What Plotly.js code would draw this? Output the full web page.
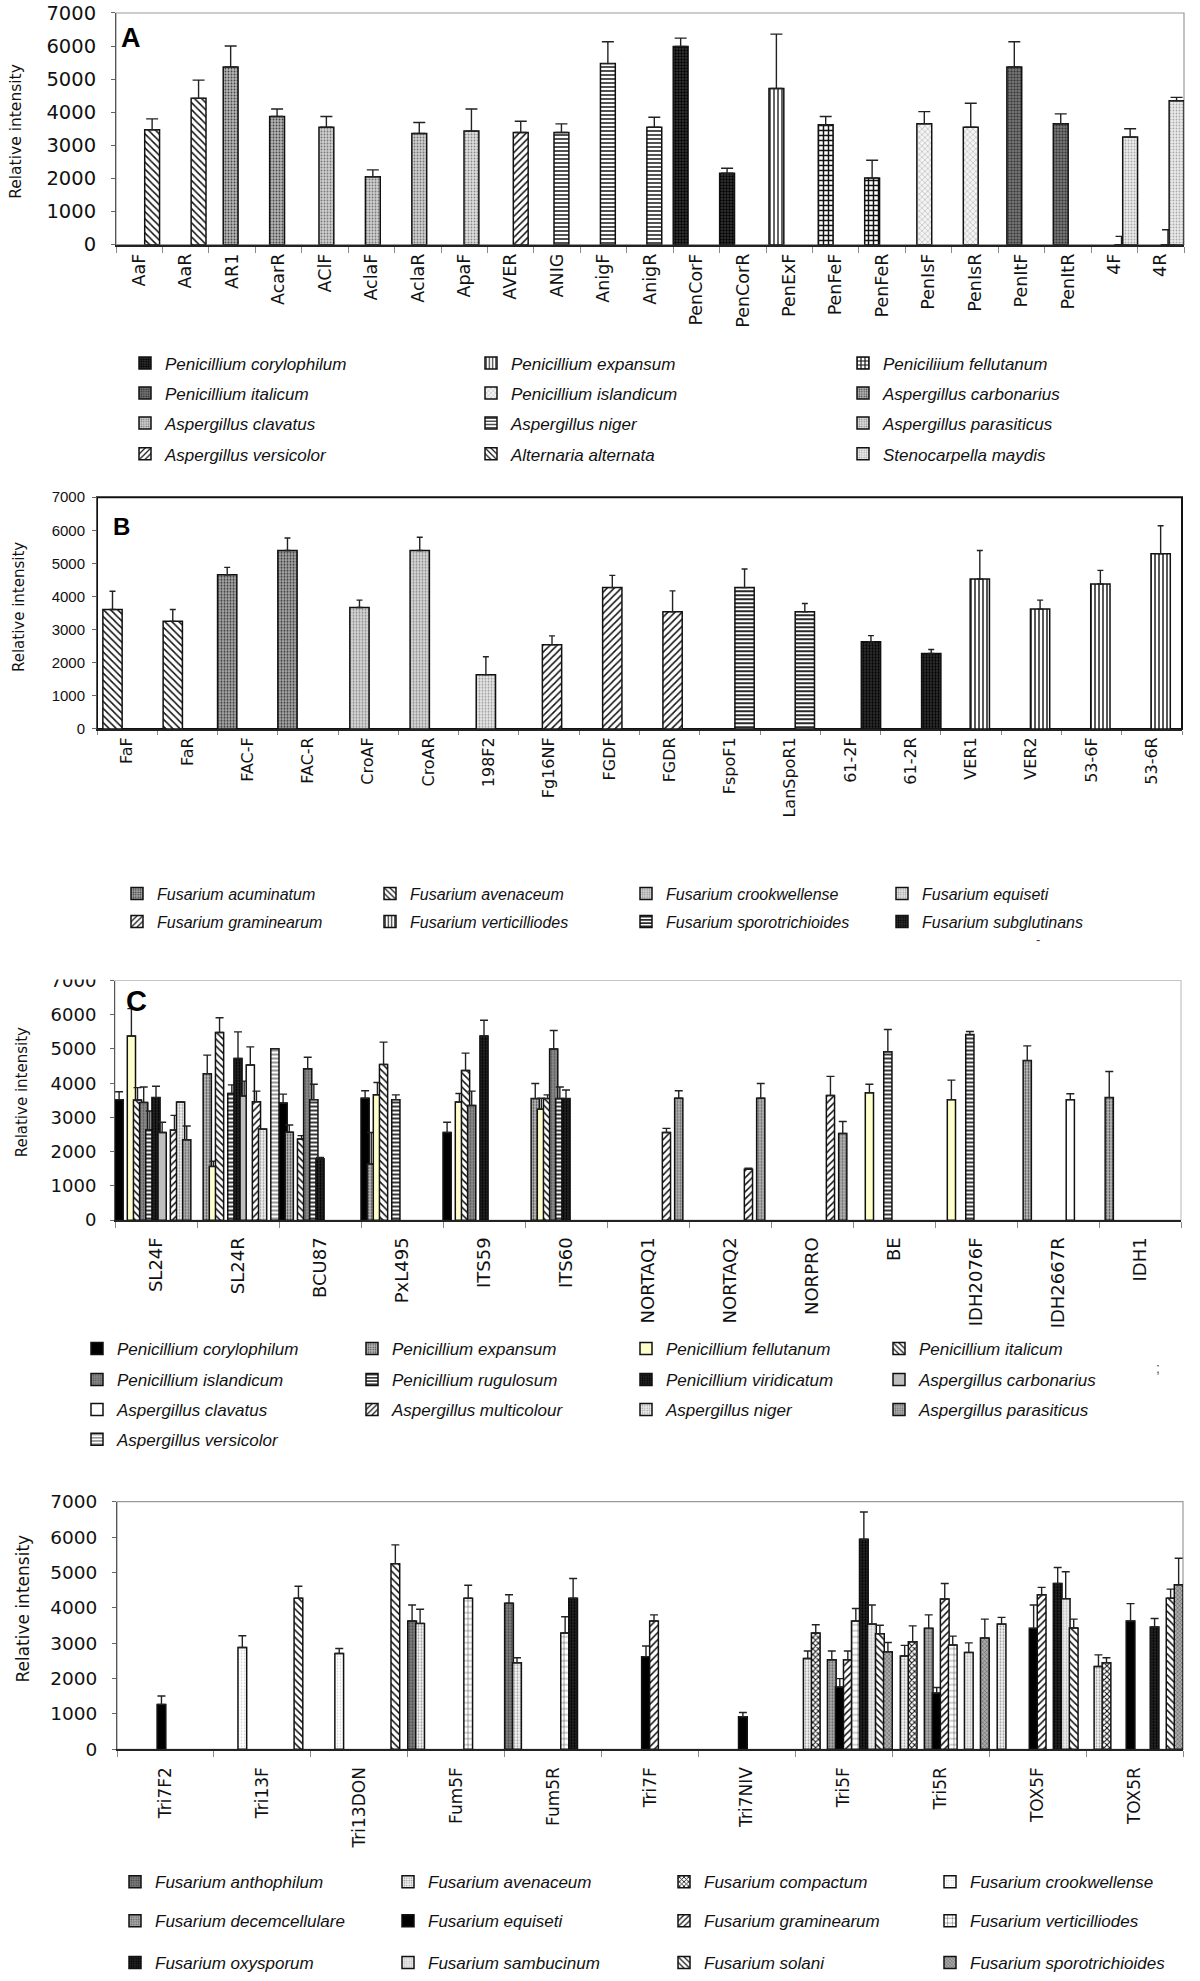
<!DOCTYPE html>
<html><head><meta charset="utf-8">
<script src="https://cdn.plot.ly/plotly-3.0.1.min.js"></script>
<style>html,body{margin:0;padding:0;background:#fff}#chart{width:1200px;height:1981px}</style>
</head><body><div id="chart"></div>
<script>
// ---------------- DATA ----------------
const yTitle = 'Relative intensity';

const catsA = ['AaF','AaR','AR1','AcarR','AClF','AclaF','AclaR','ApaF','AVER','ANIG','AnigF','AnigR','PenCorF','PenCorR','PenExF','PenFeF','PenFeR','PenIsF','PenIsR','PenItF','PenItR','4F','4R'];
const speciesA = ['Penicillium corylophilum','Penicillium expansum','Peniciliium fellutanum','Penicillium italicum','Penicillium islandicum','Aspergillus carbonarius','Aspergillus clavatus','Aspergillus niger','Aspergillus parasiticus','Aspergillus versicolor','Alternaria alternata','Stenocarpella maydis'];
// [category, species index, mean, error]
const barsA = [
  ['AaF',10,3470,330],['AaR',10,4420,550],['AR1',5,5370,630],['AcarR',5,3870,230],
  ['AClF',6,3550,320],['AclaF',6,2050,210],['AclaR',6,3360,330],['ApaF',8,3430,670],
  ['AVER',9,3390,340],['ANIG',7,3390,260],['AnigF',7,5470,660],['AnigR',7,3550,300],
  ['PenCorF',0,5990,250],['PenCorR',0,2160,150],['PenExF',1,4720,1640],['PenFeF',2,3620,250],
  ['PenFeR',2,2010,540],['PenIsF',4,3650,370],['PenIsR',4,3550,720],['PenItF',3,5370,760],
  ['PenItR',3,3650,300],['4F',11,3250,250],['4R',11,4350,100],['4F',8,0,250],['4R',8,0,450]
];

const catsB = ['FaF','FaR','FAC-F','FAC-R','CroAF','CroAR','198F2','Fg16NF','FGDF','FGDR','FspoF1','LanSpoR1','61-2F','61-2R','VER1','VER2','53-6F','53-6R'];
const speciesB = ['Fusarium acuminatum','Fusarium avenaceum','Fusarium crookwellense','Fusarium equiseti','Fusarium graminearum','Fusarium verticilliodes','Fusarium sporotrichioides','Fusarium subglutinans'];
const barsB = [
  ['FaF',1,3610,550],['FaR',1,3250,360],['FAC-F',0,4660,220],['FAC-R',0,5390,380],
  ['CroAF',2,3670,220],['CroAR',2,5390,400],['198F2',3,1640,540],['Fg16NF',4,2540,270],
  ['FGDF',4,4270,370],['FGDR',4,3540,630],['FspoF1',6,4270,560],['LanSpoR1',6,3540,250],
  ['61-2F',7,2630,190],['61-2R',7,2280,120],['VER1',5,4530,860],['VER2',5,3620,270],
  ['53-6F',5,4380,410],['53-6R',5,5290,850]
];

const catsC = ['SL24F','SL24R','BCU87','PxL495','ITS59','ITS60','NORTAQ1','NORTAQ2','NORPRO','BE','IDH2076F','IDH2667R','IDH1'];
const speciesC = ['Penicillium corylophilum','Penicillium expansum','Penicillium fellutanum','Penicillium italicum','Penicillium islandicum','Penicillium rugulosum','Penicillium viridicatum','Aspergillus carbonarius','Aspergillus clavatus','Aspergillus multicolour','Aspergillus niger','Aspergillus parasiticus','Aspergillus versicolor'];
const barsC = [
  ['SL24F',0,3520,230],['SL24F',2,5380,800],['SL24F',3,3510,360],['SL24F',4,3440,450],['SL24F',5,2640,550],
  ['SL24F',6,3580,330],['SL24F',7,2560,300],['SL24F',9,2630,430],['SL24F',10,3450,null],['SL24F',11,2350,400],
  ['SL24R',1,4280,540],['SL24R',2,1570,150],['SL24R',3,5480,430],['SL24R',5,3700,250],['SL24R',6,4720,780],
  ['SL24R',7,3630,430],['SL24R',8,4530,530],['SL24R',9,3460,310],['SL24R',10,2660,null],['SL24R',12,5010,null],
  ['BCU87',0,3420,260],['BCU87',1,2570,210],['BCU87',3,2370,100],['BCU87',4,4420,340],['BCU87',5,3520,450],['BCU87',6,1790,40],
  ['PxL495',0,3560,220],['PxL495',1,1640,920],['PxL495',2,3660,360],['PxL495',3,4550,650],['PxL495',5,3520,140],
  ['ITS59',0,2560,300],['ITS59',2,3450,250],['ITS59',3,4370,510],['ITS59',4,3350,420],['ITS59',6,5380,460],
  ['ITS60',1,3550,440],['ITS60',2,3240,320],['ITS60',3,3550,110],['ITS60',4,5000,540],['ITS60',5,3550,340],['ITS60',6,3550,250],
  ['NORTAQ1',9,2560,120],['NORTAQ1',11,3560,220],
  ['NORTAQ2',9,1490,30],['NORTAQ2',11,3560,430],
  ['NORPRO',9,3640,560],['NORPRO',11,2530,350],
  ['BE',2,3720,250],['BE',5,4920,650],
  ['IDH2076F',2,3520,570],['IDH2076F',5,5420,90],
  ['IDH2667R',1,4660,430],['IDH2667R',8,3520,170],
  ['IDH1',1,3580,760]
];

const catsD = ['Tri7F2','Tri13F','Tri13DON','Fum5F','Fum5R','Tri7F','Tri7NIV','Tri5F','Tri5R','TOX5F','TOX5R'];
const speciesD = ['Fusarium anthophilum','Fusarium avenaceum','Fusarium compactum','Fusarium crookwellense','Fusarium decemcellulare','Fusarium equiseti','Fusarium graminearum','Fusarium verticilliodes','Fusarium oxysporum','Fusarium sambucinum','Fusarium solani','Fusarium sporotrichioides'];
const barsD = [
  ['Tri7F2',5,1270,240],
  ['Tri13F',3,2880,330],['Tri13F',10,4270,340],
  ['Tri13DON',3,2710,140],['Tri13DON',10,5250,530],
  ['Fum5F',0,3630,450],['Fum5F',1,3560,400],['Fum5F',7,4270,370],
  ['Fum5R',0,4130,240],['Fum5R',1,2450,140],['Fum5R',7,3290,460],['Fum5R',8,4270,560],
  ['Tri7F',5,2620,300],['Tri7F',6,3630,170],
  ['Tri7NIV',5,920,120],
  ['Tri5F',1,2570,210],['Tri5F',2,3290,230],['Tri5F',4,2530,250],['Tri5F',5,1760,240],['Tri5F',6,2530,250],
  ['Tri5F',7,3630,350],['Tri5F',8,5940,770],['Tri5F',9,3540,540],['Tri5F',10,3270,240],['Tri5F',11,2760,260],
  ['Tri5R',1,2640,300],['Tri5R',2,3040,450],['Tri5R',4,3420,380],['Tri5R',5,1590,160],['Tri5R',6,4250,440],
  ['Tri5R',7,2950,250],['Tri5R',9,2740,270],['Tri5R',11,3150,530],
  ['TOX5F',1,3540,190],['TOX5F',5,3420,660],['TOX5F',6,4370,210],['TOX5F',8,4690,450],['TOX5F',9,4260,760],['TOX5F',10,3430,250],
  ['TOX5R',1,2340,330],['TOX5R',2,2450,140],['TOX5R',5,3630,490],['TOX5R',8,3460,240],['TOX5R',10,4270,260],['TOX5R',11,4650,750]
];

// ---------------- STYLES ----------------
// [shape, fg, bg, size, solidity]
const stylesA = [
  ['.','#000','#3a3a3a',3,0.5],['|','#222','#fff',4,0.35],['+','#111','#fff',5,0.5],['.','#333','#777',3,0.4],
  ['x','#999','#f4f4f4',4,0.2],['.','#444','#b5b5b5',3,0.3],['.','#777','#cfcfcf',3,0.3],['-','#222','#fff',4,0.4],
  ['.','#888','#e0e0e0',3,0.3],['/','#111','#fff',5,0.3],['\\','#111','#fff',5,0.3],['.','#aaa','#ececec',3,0.3]
];
const stylesB = [
  ['.','#333','#a8a8a8',3,0.35],['\\','#111','#fff',5,0.3],['.','#888','#d6d6d6',3,0.3],['.','#999','#e6e6e6',3,0.3],
  ['/','#111','#fff',5,0.3],['|','#111','#fff',4,0.35],['-','#111','#fff',4,0.45],['.','#000','#333',3,0.45]
];
const stylesC = [
  ['','#000','#000',3,0],['.','#444','#bbb',3,0.3],['','#ffffcc','#ffffcc',3,0],['\\','#111','#fff',5,0.3],
  ['.','#555','#8c8c8c',3,0.35],['-','#222','#fff',4,0.45],['.','#000','#2a2a2a',3,0.45],['','#bfbfbf','#bfbfbf',3,0],
  ['','#fff','#fff',3,0],['/','#111','#fff',5,0.3],['.','#999','#f2f2f2',3,0.3],['.','#666','#b0b0b0',3,0.3],
  ['-','#888','#fff',4,0.45]
];
const stylesD = [
  ['.','#444','#7f7f7f',3,0.35],['.','#999','#f5f5f5',3,0.3],['x','#111','#fff',4,0.45],['.','#ccc','#fff',3,0.2],
  ['.','#666','#aaa',3,0.35],['','#000','#000',3,0],['/','#111','#fff',5,0.3],['+','#333','#fff',6,0.15],
  ['.','#000','#2a2a2a',3,0.45],['.','#bbb','#ececec',3,0.3],['\\','#111','#fff',5,0.3],['x','#555','#aaa',3,0.3]
];

const W = 1200, H = 1981;
const WIDE = 'DejaVu Sans';
const panels = [
  {cats:catsA, species:speciesA, bars:barsA, styles:stylesA, box:[116,13,1184,245], barW:0.32, errW:6,
   yFont:19.5, yFamily:WIDE, xFont:17.5, xFamily:WIDE, frame:'#9a9a9a', frameW:1.2, xStand:0, yStand:11, ticklen:6,
   rows:[364,394,424,455], cols:[145,491,863], legFont:17, letter:'A', letterPos:[119,38], letterSize:27,
   yt:[16,132], ytSize:15.5},
  {cats:catsB, species:speciesB, bars:barsB, styles:stylesB, box:[97,498,1182,730], barW:0.32, errW:3,
   yFont:15, yFamily:'Liberation Sans Narrow, Liberation Sans', xFont:16, xFamily:WIDE, frame:'#111', frameW:2, xStand:0, yStand:4, ticklen:4,
   rows:[895,923], cols:[137,390,646,902], legFont:16, letter:'B', letterPos:[111,527], letterSize:24,
   yt:[19,608], ytSize:15},
  {cats:catsC, species:speciesC, bars:barsC, styles:stylesC, box:[115,982,1181,1222], barW:0.10, errW:4,
   yFont:18, yFamily:WIDE, xFont:18, xFamily:WIDE, frame:'#c4c4c4', frameW:1.2, xStand:8, yStand:10, ticklen:6,
   rows:[1351,1382,1412,1442], cols:[97,372,646,899], legFont:17, letter:'C', letterPos:[124,1003], letterSize:29,
   yt:[22,1094], ytSize:15},
  {cats:catsD, species:speciesD, bars:barsD, styles:stylesD, box:[117,1504,1183,1752], barW:0.09, errW:4,
   yFont:18.5, yFamily:WIDE, xFont:17, xFamily:WIDE, frame:'#9a9a9a', frameW:1.2, xStand:9, yStand:11, ticklen:6,
   rows:[1885,1924,1966], cols:[135,408,684,950], legFont:17, letter:'', letterPos:[0,0], letterSize:0,
   yt:[23,1611], ytSize:17}
];

const traces = [];
const layout = {
  width:W, height:H, margin:{l:0,r:0,t:0,b:0}, paper_bgcolor:'#fff', plot_bgcolor:'rgba(0,0,0,0)',
  barmode:'overlay', showlegend:true, hovermode:false, font:{family:'Liberation Sans', color:'#111'},
  shapes:[], annotations:[]
};
let legendCount = 0;

panels.forEach((p, k) => {
  const sfx = k === 0 ? '' : String(k + 1);
  const xa = 'x' + sfx, ya = 'y' + sfx;
  const n = p.species.length;
  const step = (1 - p.barW) / (n - 1);
  const ncols = p.cols.length;
  const legendIds = p.rows.map(() => { legendCount++; return legendCount === 1 ? 'legend' : 'legend' + legendCount; });

  p.species.forEach((name, s) => {
    const y = p.cats.map(c => { const r = p.bars.find(b => b[0] === c && b[1] === s); return r ? r[2] : null; });
    const e = p.cats.map(c => { const r = p.bars.find(b => b[0] === c && b[1] === s); return r && r[3] != null ? r[3] : null; });
    const st = p.styles[s];
    const marker = {color: st[2], line:{color:'#111', width:1.5}};
    if (st[0]) marker.pattern = {shape: st[0], fgcolor: st[1], bgcolor: st[2], size: st[3], solidity: st[4], fillmode:'replace'};
    const row = Math.floor(s / ncols), col = s % ncols;
    const lw = col < ncols - 1 ? (p.cols[col + 1] - p.cols[col]) - 45 : 220;
    traces.push({
      type:'bar', name, x:p.cats, y, xaxis:xa, yaxis:ya,
      offset: -0.5 + s * step, width: p.barW, marker,
      error_y:{type:'data', array:e, arrayminus:e.map(() => 0), symmetric:false, visible:true,
               color:'#222', thickness:1.4, width:p.errW},
      legend: legendIds[row], legendwidth: lw, showlegend:true, hoverinfo:'skip'
    });
  });

  legendIds.forEach((id, r) => {
    layout[id] = {
      x:(p.cols[0] - 20) / W, xanchor:'left', y:1 - p.rows[r] / H, yanchor:'middle',
      orientation:'h', bgcolor:'rgba(0,0,0,0)', borderwidth:0, traceorder:'normal',
      font:{family:'Liberation Sans', size:p.legFont, style:'italic', color:'#111'},
      itemclick:false, itemdoubleclick:false
    };
  });

  const b = p.box;
  layout['xaxis' + sfx] = {
    domain:[b[0] / W, b[2] / W], anchor:ya, type:'category', categoryorder:'array', categoryarray:p.cats,
    range:[-0.5, p.cats.length - 0.5], tickson:'boundaries', ticks:'outside', ticklen:p.ticklen, tickcolor:'#888',
    tickwidth:1, showline:true, linecolor:'#222', linewidth:2, showgrid:false, zeroline:false,
    tickangle:-90, ticklabelstandoff:p.xStand,
    tickfont:{family:p.xFamily, size:p.xFont, color:'#111'}, automargin:false, fixedrange:true
  };
  layout['yaxis' + sfx] = {
    domain:[1 - b[3] / H, 1 - b[1] / H], anchor:xa, range:[0, 7000], tick0:0, dtick:1000,
    ticks:'outside', ticklen:4, tickcolor:'#666', showline:true, linecolor:'#555', linewidth:1,
    showgrid:false, zeroline:false, ticklabelstandoff:p.yStand,
    tickfont:{family:p.yFamily, size:p.yFont, color:'#111'}, automargin:false, fixedrange:true
  };
  layout.shapes.push({type:'rect', xref:xa + ' domain', yref:ya + ' domain', x0:0, x1:1, y0:0, y1:1,
    line:{color:p.frame, width:p.frameW}, layer:'below'});
  layout.annotations.push({text:yTitle, xref:'paper', yref:'paper', x:p.yt[0] / W, y:1 - p.yt[1] / H,
    xanchor:'center', yanchor:'middle', textangle:-90, showarrow:false,
    font:{family:WIDE, size:p.ytSize, color:'#111'}});
  if (p.letter) layout.annotations.push({text:'<b>' + p.letter + '</b>', xref:'paper', yref:'paper',
    x:p.letterPos[0] / W, y:1 - p.letterPos[1] / H, xanchor:'left', yanchor:'middle', showarrow:false,
    font:{family:'Liberation Sans', size:p.letterSize, color:'#000'}});
});

// top of panel C's first tick label is hidden in the reference
layout.shapes.push({type:'rect', xref:'paper', yref:'paper', x0:30 / W, x1:112 / W, y0:1 - 981 / H, y1:1 - 955 / H,
  fillcolor:'#fff', line:{width:0}, layer:'above'});
layout.annotations.push({text:';', xref:'paper', yref:'paper', x:1162 / W, y:1 - 1380 / H, showarrow:false,
  font:{family:'Liberation Sans', size:14, color:'#555'}});
layout.annotations.push({text:'-', xref:'paper', yref:'paper', x:1042 / W, y:1 - 941 / H, showarrow:false,
  font:{family:'Liberation Sans', size:13, color:'#333'}});

Plotly.newPlot('chart', traces, layout, {staticPlot:true, displayModeBar:false});
</script></body></html>
